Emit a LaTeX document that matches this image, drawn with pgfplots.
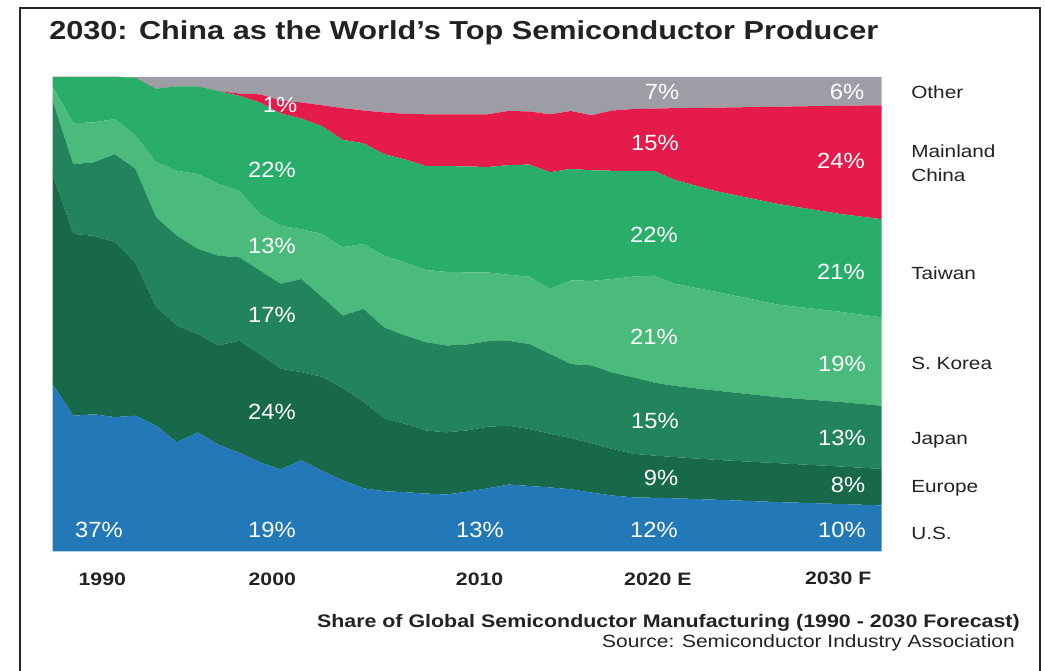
\documentclass[border=0pt]{standalone}
\usepackage{pgfplots}
\pgfplotsset{compat=1.18}
\usepackage{pgfplotstable}
\usepackage{fontspec}
\setmainfont{Liberation Sans}
\newfontfamily\wide[FakeStretch=1.18]{Liberation Sans}
\newfontfamily\wider[FakeStretch=1.08]{Liberation Sans}

\definecolor{cUS}{HTML}{2379B8}
\definecolor{cEU}{HTML}{18694A}
\definecolor{cJP}{HTML}{22845C}
\definecolor{cKR}{HTML}{4ABB7A}
\definecolor{cTW}{HTML}{29AE6A}
\definecolor{cCN}{HTML}{E41B4B}
\definecolor{cOT}{HTML}{9D9DA6}
\definecolor{ink}{HTML}{222222}

% share of global semiconductor manufacturing, %
\pgfplotstableread{
year US   Europe Japan Korea Taiwan China Other
1990 35.3 44.2 15.5  3.0  2.0  0.0  0.0
1991 28.6 38.3 14.7  8.6  9.8  0.0  0.0
1992 28.9 37.6 15.5  8.4  9.6  0.0  0.0
1993 28.3 36.9 18.5  7.4  8.9  0.0  0.0
1994 28.6 32.2 19.8  7.0 12.2  0.0  0.2
1995 26.5 25.0 18.9 11.6 15.5  0.0  2.5
1996 23.0 24.6 18.9 13.7 17.8  0.0  2.0
1997 25.1 20.7 18.0 15.7 18.5  0.0  2.0
1998 22.5 20.9 18.9 15.1 19.6  0.0  3.0
1999 20.8 23.6 17.6 14.0 20.0  0.5  3.5
2000 18.8 22.8 17.6 11.9 23.5  1.7  3.7
2001 17.3 21.2 17.9 12.2 23.7  2.7  5.0
2002 19.2 18.6 19.6 10.5 23.3  3.4  5.4
2003 17.0 19.8 16.8 13.3 22.7  4.4  6.0
2004 15.0 19.4 15.3 14.4 22.6  6.7  6.6
2005 13.3 18.2 19.6 13.7 21.2  6.9  7.1
2006 12.7 15.3 19.2 15.1 21.4  8.8  7.5
2007 12.5 14.4 18.6 15.4 21.7  9.6  7.8
2008 12.2 13.3 18.6 15.2 21.9 10.9  7.9
2009 12.0 13.1 18.3 15.5 22.3 10.9  7.9
2010 12.6 12.9 18.1 15.2 22.3 11.0  7.9
2011 13.3 13.0 18.0 14.5 22.2 11.1  7.9
2012 14.1 12.4 17.9 13.9 23.1 11.4  7.2
2013 13.8 12.0 17.9 14.2 23.6 11.2  7.3
2014 13.5 11.3 16.8 13.7 24.6 12.2  7.9
2015 13.1 10.8 15.6 17.6 23.5 12.2  7.2
2016 12.4 10.4 16.4 17.8 23.3 11.6  8.1
2017 11.8  9.8 16.1 19.7 22.8 12.7  7.1
2018 11.4  9.2 16.1 21.2 22.3 13.0  6.8
2019 11.3  8.9 15.4 22.5 22.1 13.1  6.7
2020 11.2  8.7 15.0 21.5 21.9 15.1  6.6
2022 10.9  8.4 14.6 20.8 21.2 17.6  6.5
2025 10.4  8.2 13.9 19.5 21.2 20.5  6.3
2028 10.0  7.9 13.6 19.0 20.6 22.8  6.1
2030  9.7  7.7 13.3 18.6 20.7 24.0  6.0
}\share

\begin{document}
\begin{tikzpicture}
\begin{scope}[x=0.75pt,y=-0.75pt]
  \useasboundingbox (0,0) rectangle (1046,671);
  \draw[line width=1.5pt, black!85] (20.3,672) -- (20.3,8.3) -- (1040.3,8.3) -- (1040.3,672);
\end{scope}

\begin{axis}[
  at={(39.4pt,-413.6pt)}, anchor=south west,
  scale only axis, width=621.9pt, height=356pt,
  xmin=1990, xmax=2030, ymin=0, ymax=100,
  stack plots=y,
  axis line style={draw=none},
  ytick=\empty,
  xtick={1992.4,2000.6,2010.6,2019.2,2027.9},
  xticklabels={1990,2000,2010,2020 E,2030 F},
  major tick length=0pt,
  xticklabel style={font=\wide\fontsize{13.5}{16}\selectfont\bfseries, text=ink, anchor=center, yshift=-20.5pt},
]
\addplot[fill=cUS, draw=none] table[x=year, y=US]{\share} \closedcycle;
\addplot[fill=cEU, draw=none] table[x=year, y=Europe]{\share} \closedcycle;
\addplot[fill=cJP, draw=none] table[x=year, y=Japan]{\share} \closedcycle;
\addplot[fill=cKR, draw=none] table[x=year, y=Korea]{\share} \closedcycle;
\addplot[fill=cTW, draw=none] table[x=year, y=Taiwan]{\share} \closedcycle;
\addplot[fill=cCN, draw=none] table[x=year, y=China]{\share} \closedcycle;
\addplot[fill=cOT, draw=none] table[x=year, y=Other]{\share} \closedcycle;
\end{axis}

\begin{scope}[x=0.75pt,y=-0.75pt, every node/.style={inner sep=0pt, text=ink}]
  % value labels (pixel positions of the reference)
  \begin{scope}[every node/.append style={text=white, anchor=center, font=\wider\fontsize{16.5}{19}\selectfont}]
    \node at (99,530) {37\%};
    \node at (272,530) {19\%};
    \node at (480,530) {13\%};
    \node at (654,530) {12\%};
    \node at (842,530) {10\%};
    \node at (272,412) {24\%};
    \node at (272,315) {17\%};
    \node at (272,246) {13\%};
    \node at (272,170) {22\%};
    \node at (280,105) {1\%};
    \node at (662,92) {7\%};
    \node at (847,92) {6\%};
    \node at (655,143) {15\%};
    \node at (841,161) {24\%};
    \node at (654,235) {22\%};
    \node at (841,272) {21\%};
    \node at (654,337) {21\%};
    \node at (842,364) {19\%};
    \node at (655,421) {15\%};
    \node at (842,438) {13\%};
    \node at (661,478) {9\%};
    \node at (848,485) {8\%};
  \end{scope}
  \node[anchor=base west, font=\wide\fontsize{19.5}{24}\selectfont\bfseries] at (49,39.5) {2030: China as the World’s Top Semiconductor Producer};
  \begin{scope}[every node/.append style={anchor=west, font=\wide\fontsize{13.2}{18}\selectfont}]
    \node at (911,92) {Other};
    \node[align=left] at (911,163) {Mainland\\China};
    \node at (911,273) {Taiwan};
    \node at (911,363) {S. Korea};
    \node at (911,440) {Japan};
    \node at (911,488) {Europe};
    \node at (911,533) {U.S.};
  \end{scope}
  \node[anchor=base east, font=\wide\fontsize{13.6}{16}\selectfont\bfseries] at (1020,627) {Share of Global Semiconductor Manufacturing (1990 - 2030 Forecast)};
  \node[anchor=base east, font=\wide\fontsize{13.3}{16}\selectfont] at (1015,647) {Source: Semiconductor Industry Association};
\end{scope}
\end{tikzpicture}
\end{document}
